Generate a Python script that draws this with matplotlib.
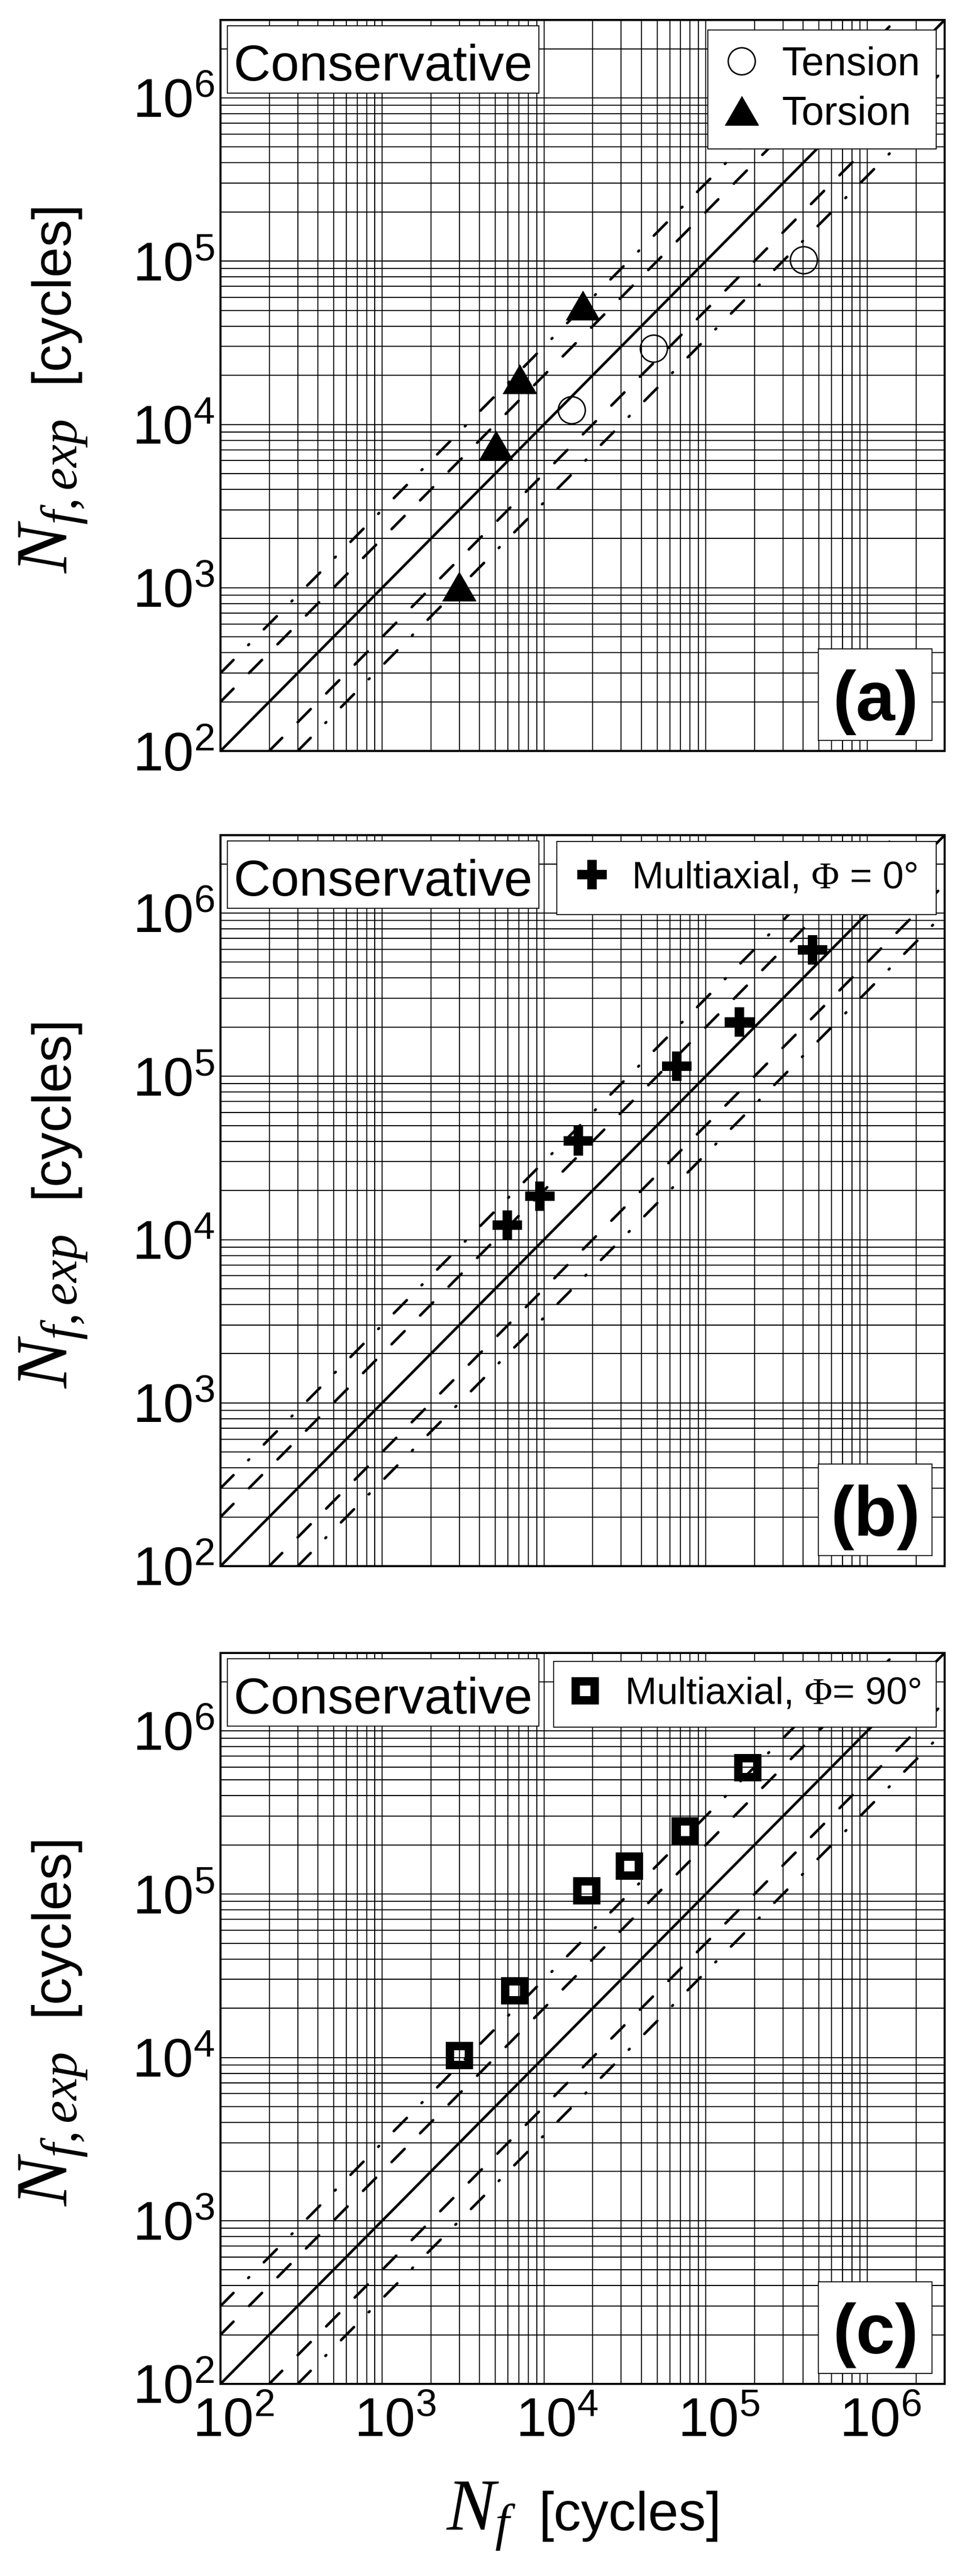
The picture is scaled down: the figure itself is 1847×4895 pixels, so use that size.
import matplotlib
matplotlib.use('Agg')
import matplotlib.pyplot as plt
import matplotlib.transforms as mtransforms
from matplotlib.patches import Rectangle
from matplotlib.ticker import LogLocator, NullFormatter

plt.rcParams['font.family'] = ['Liberation Sans', 'DejaVu Sans']
plt.rcParams['mathtext.fontset'] = 'custom'
plt.rcParams['mathtext.rm'] = 'Liberation Serif'
plt.rcParams['mathtext.it'] = 'Liberation Serif:italic'
plt.rcParams['mathtext.bf'] = 'Liberation Serif:bold'

# axis range (cycles)
n_lo, n_hi = 1e2, 3e6
decade_ticks = [1e2, 1e3, 1e4, 1e5, 1e6]

# scatter bands: factor on life
band_factors = [1, 2, 0.5, 3, 1 / 3]
band_styles = ['-', (0, (7.0, 8.4)), (0, (7.0, 8.4)),
               (0, (7.0, 8.0, 0.4, 8.0)), (0, (7.0, 8.0, 0.4, 8.0))]

# panel (a)
tension_nf = [1.48e4, 4.77e4, 4.03e5]
tension_nexp = [1.23e4, 2.93e4, 1.02e5]
torsion_nf = [2.97e3, 5.03e3, 7.05e3, 1.73e4]
torsion_nexp = [1.02e3, 7.47e3, 1.90e4, 5.37e4]

# panel (b)
phi0_nf = [5.93e3, 9.46e3, 1.63e4, 6.61e4, 1.62e5, 4.57e5]
phi0_nexp = [1.23e4, 1.85e4, 4.03e4, 1.15e5, 2.16e5, 5.93e5]

# panel (c)
phi90_nf = [3.0e3, 6.58e3, 1.84e4, 3.38e4, 7.45e4, 1.82e5]
phi90_nexp = [1.03e4, 2.56e4, 1.05e5, 1.48e5, 2.44e5, 5.93e5]

W, H = 1847, 4895
fig = plt.figure(figsize=(W / 100, H / 100), dpi=100)
fig.patch.set_facecolor('white')

ax_left, ax_w, ax_h = 419, 1376, 1389
panel_tops = [38, 1587, 3141]

tri = [(-1, -0.866), (1, -0.866), (0, 0.866)]


def setup_axes(top, show_x):
    ax = fig.add_axes([ax_left / W, 1 - (top + ax_h) / H, ax_w / W, ax_h / H])
    ax.set_xscale('log')
    ax.set_yscale('log')
    ax.set_xlim(n_lo, n_hi)
    ax.set_ylim(n_lo, n_hi)
    for a in (ax.xaxis, ax.yaxis):
        a.set_major_locator(LogLocator(base=10, numticks=20))
        a.set_minor_locator(LogLocator(base=10, subs=range(2, 10), numticks=20))
        a.set_minor_formatter(NullFormatter())
    ax.set_xticks(decade_ticks)
    ax.set_yticks(decade_ticks)
    ax.grid(True, which='both', color='black', lw=1.1, antialiased=False)
    ax.set_axisbelow(True)
    ax.tick_params(which='both', length=0, labelsize=75)
    ax.tick_params(axis='y', pad=8)
    ax.tick_params(axis='x', pad=18, labelbottom=show_x)
    for s in ax.spines.values():
        s.set_linewidth(1.6)
        s.set_antialiased(False)
        s.set_zorder(20)

    for k, ls in zip(band_factors, band_styles):
        x0 = max(n_lo, n_lo / k)
        x1 = min(n_hi, n_hi / k)
        ax.plot([x0, x1], [k * x0, k * x1], color='black', lw=3.6,
                linestyle=ls, dash_capstyle='round', solid_capstyle='butt',
                zorder=3)

    # "Conservative" box
    ax.add_patch(Rectangle((0.0094, 0.8999), 0.4303, 0.0922, transform=ax.transAxes,
                           fc='white', ec='black', lw=1.3, zorder=8))
    ax.text(0.2246, 0.9172, 'Conservative', transform=ax.transAxes, fontsize=70,
            ha='center', va='baseline', zorder=9)

    # ylabel
    fig.text(128 / W, 1 - (top + 1052) / H, r'$N_{f,exp}$', fontsize=100, rotation=90,
             rotation_mode='anchor', ha='left', va='baseline')
    fig.text(128 / W, 1 - (top + 689) / H, '[cycles]', fontsize=75, rotation=90,
             rotation_mode='anchor', ha='left', va='baseline')
    return ax


def panel_label(ax, txt):
    ax.add_patch(Rectangle((0.8256, 0.0144), 0.157, 0.1253, transform=ax.transAxes,
                           fc='white', ec='black', lw=1.3, zorder=8))
    ax.text(0.9045, 0.0418, txt, transform=ax.transAxes, fontsize=96,
            fontweight='bold', ha='center', va='baseline', zorder=9)


def add_legend(ax, top_frac, size, tpad, bpad):
    leg = ax.legend(loc='upper right', bbox_to_anchor=(0.9884, top_frac),
                    borderaxespad=0, fontsize=size, frameon=True, fancybox=False,
                    edgecolor='black', framealpha=1, borderpad=bpad,
                    handlelength=0.87, handletextpad=tpad, labelspacing=0.3,
                    numpoints=1)
    leg.get_frame().set_linewidth(1.3)
    leg.set_zorder(10)
    return leg


# (a)
ax_a = setup_axes(panel_tops[0], False)
ax_a.plot(tension_nf, tension_nexp, linestyle='none', marker='o', ms=37,
          mfc='none', mec='black', mew=2, label='Tension', zorder=5)
ax_a.plot(torsion_nf, torsion_nexp, linestyle='none', marker=tri, ms=46,
          mfc='black', mec='black', mew=1, label='Torsion', zorder=5)
add_legend(ax_a, 0.9863, 55, 0.56, 0.4)
panel_label(ax_a, '(a)')

# (b)
ax_b = setup_axes(panel_tops[1], False)
ax_b.plot(phi0_nf, phi0_nexp, linestyle='none', marker='P', ms=40,
          mfc='black', mec='black', mew=0, label=r'Multiaxial, $\Phi$ = 0°', zorder=5)
add_legend(ax_b, 0.9914, 52, 0.6, 0.5)
panel_label(ax_b, '(b)')

# (c)
ax_c = setup_axes(panel_tops[2], True)
ax_c.plot(phi90_nf, phi90_nexp, linestyle='none', marker='s', ms=26.6,
          mfc='none', mec='black', mew=11.5, label=r'Multiaxial, $\Phi$= 90°', zorder=5)
add_legend(ax_c, 0.9885, 52, 0.6, 0.4)
panel_label(ax_c, '(c)')

# xlabel
xb = 4808
fig.text(847 / W, 1 - xb / H, r'$N_f$', fontsize=100, ha='left', va='baseline')
fig.text(1024 / W, 1 - xb / H, '[cycles]', fontsize=75, ha='left', va='baseline')

# shift x tick labels right (base "10" centred on tick)
fig.canvas.draw()
shift = mtransforms.ScaledTranslation(0.25, 0, fig.dpi_scale_trans)
for t in ax_c.xaxis.get_major_ticks():
    t.label1.set_transform(t.label1.get_transform() + shift)

fig.savefig('out.png', dpi=100, facecolor='white')
